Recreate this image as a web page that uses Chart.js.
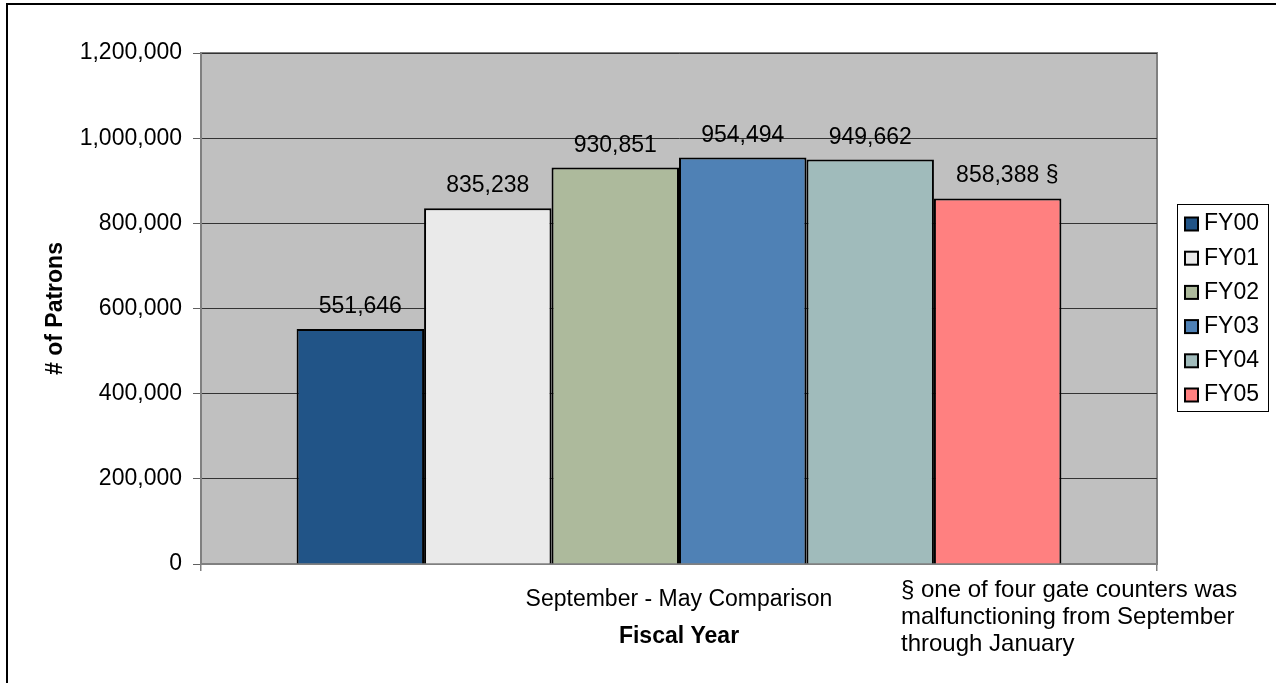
<!DOCTYPE html>
<html>
<head>
<meta charset="utf-8">
<title>Patrons - September to May</title>
<script src="https://cdn.jsdelivr.net/npm/chart.js@4.4.0/dist/chart.umd.min.js"></script>
<style>
    body { margin: 0; background: #fff; }
    #wrap { width: 1276px; height: 683px; }
</style>
</head>
<body>
<div id="wrap"><canvas id="patronChart" width="1276" height="683"></canvas></div>
<script>
const categories = ['September - May Comparison'];
const years = ['FY00', 'FY01', 'FY02', 'FY03', 'FY04', 'FY05'];
const patrons = [551646, 835238, 930851, 954494, 949662, 858388];
const notes = ['', '', '', '', '', '§'];
const barColors = ['#215487', '#EAEAEA', '#ADBA9C', '#4F81B5', '#A0BBBB', '#FF8080'];
const yTicks = [0, 200000, 400000, 600000, 800000, 1000000, 1200000];
const footnote = [
    '§ one of four gate counters was',
    'malfunctioning from September',
    'through January'
];

const font = 'Liberation Sans, Arial, sans-serif';
Chart.defaults.font.family = font;
Chart.defaults.font.size = 23;
Chart.defaults.color = '#000';

const fmt = (v) => v.toLocaleString('en-US');

// grey plot area + outer frame
const backdrop = {
    id: 'backdrop',
    beforeDraw(chart) {
        const ctx = chart.ctx;
        const a = chart.chartArea;
        ctx.save();
        ctx.fillStyle = '#fff';
        ctx.fillRect(0, 0, chart.width, chart.height);
        ctx.strokeStyle = '#000';
        ctx.lineWidth = 2;
        ctx.strokeRect(7, 4, 2000, 2000);
        ctx.fillStyle = '#C0C0C0';
        ctx.fillRect(a.left, a.top, a.right - a.left, a.bottom - a.top);
        ctx.strokeStyle = '#808080';
        ctx.lineWidth = 2;
        ctx.strokeRect(a.left, a.top, a.right - a.left, a.bottom - a.top);
        ctx.restore();
    }
};

// value labels, legend and footnote
const extras = {
    id: 'extras',
    afterDatasetsDraw(chart) {
        const ctx = chart.ctx;
        ctx.save();
        ctx.font = '23px ' + font;
        ctx.fillStyle = '#000';
        ctx.textBaseline = 'alphabetic';
        chart.data.datasets.forEach((ds, i) => {
            const el = chart.getDatasetMeta(i).data[0];
            const txt = fmt(ds.data[0]);
            ctx.textAlign = 'center';
            ctx.fillText(txt, el.x, el.y - 16);
            if (notes[i]) {
                ctx.textAlign = 'left';
                ctx.fillText(' ' + notes[i], el.x + ctx.measureText(txt).width / 2, el.y - 16);
            }
        });

        // legend
        ctx.strokeStyle = '#000';
        ctx.lineWidth = 1;
        ctx.strokeRect(1177.5, 204.5, 91, 207);
        ctx.textAlign = 'left';
        ctx.textBaseline = 'middle';
        chart.data.datasets.forEach((ds, i) => {
            const y = 224 + i * 34.2;
            ctx.fillStyle = ds.backgroundColor;
            ctx.fillRect(1185, y - 6.5, 13, 13);
            ctx.lineWidth = 2;
            ctx.strokeRect(1185, y - 6.5, 13, 13);
            ctx.fillStyle = '#000';
            ctx.fillText(ds.label, 1204, y);
        });

        // footnote
        ctx.font = '24px ' + font;
        ctx.textBaseline = 'alphabetic';
        footnote.forEach((line, i) => {
            ctx.fillText(line, 901, 597 + i * 27);
        });
        ctx.restore();
    }
};

const ctx = document.getElementById('patronChart').getContext('2d');

const patronChart = new Chart(ctx, {
    type: 'bar',
    data: {
        labels: categories,
        datasets: years.map((y, i) => ({
            label: y,
            data: [patrons[i]],
            backgroundColor: barColors[i],
            borderColor: '#000',
            borderWidth: 2,
            categoryPercentage: 0.8,
            barPercentage: 1.0
        }))
    },
    options: {
        responsive: false,
        animation: false,
        layout: {
            padding: { top: 53, right: 119, bottom: 0, left: 0 }
        },
        plugins: {
            legend: { display: false },
            tooltip: { enabled: false }
        },
        scales: {
            x: {
                grid: {
                    display: true,
                    drawOnChartArea: false,
                    tickLength: 7,
                    tickColor: '#808080',
                    lineWidth: 1.5
                },
                border: { color: '#808080', width: 2 },
                ticks: { padding: 15, color: '#000' },
                title: {
                    display: true,
                    text: 'Fiscal Year',
                    font: { weight: 'bold', size: 23 },
                    padding: { top: 0, bottom: 33 }
                },
                afterFit(scale) { scale.height = 119; }
            },
            y: {
                min: 0,
                max: 1200000,
                afterBuildTicks(scale) {
                    scale.ticks = yTicks.map(v => ({ value: v }));
                },
                grid: {
                    color: '#333333',
                    lineWidth: 1,
                    tickLength: 8,
                    tickColor: '#606060'
                },
                border: { color: '#808080', width: 2 },
                ticks: {
                    padding: 11,
                    color: '#000',
                    callback: (v) => fmt(v)
                },
                title: {
                    display: true,
                    text: '# of Patrons',
                    font: { weight: 'bold', size: 23 },
                    padding: { top: 42, bottom: 0 }
                },
                afterFit(scale) { scale.width = 201; }
            }
        }
    },
    plugins: [backdrop, extras]
});
</script>
</body>
</html>
